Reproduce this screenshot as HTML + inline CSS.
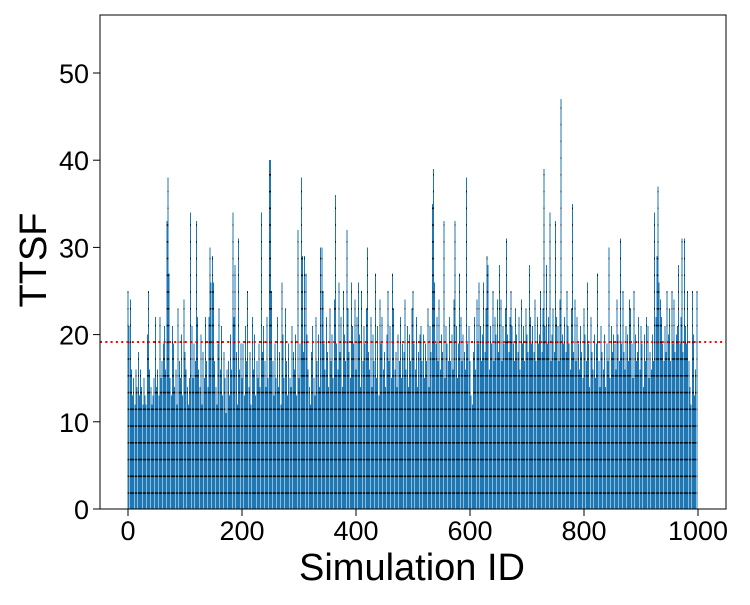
<!DOCTYPE html>
<html><head><meta charset="utf-8"><style>
body{margin:0;background:#fff;}
svg text{font-family:"Liberation Sans",sans-serif;fill:#000;}
</style></head><body>
<svg id="chart" width="750" height="600" xmlns="http://www.w3.org/2000/svg">
<defs>
<pattern id="seg" patternUnits="userSpaceOnUse" x="0" y="509" width="750" height="16.75">
<rect width="750" height="16.75" fill="#1f77b4"/>
<rect y="0" width="750" height="1.6" fill="#06131d"/>
</pattern>
<clipPath id="plotclip"><rect x="100" y="15" width="626" height="494"/></clipPath>
</defs>
<g id="bars" clip-path="url(#plotclip)" shape-rendering="crispEdges"></g>
<line id="meanline" stroke="#ff0000" stroke-width="2" stroke-dasharray="2,3.3"/>
<rect x="100" y="15" width="626" height="494" fill="none" stroke="#000" stroke-width="1"/>
<g id="xticks"></g>
<g id="yticks"></g>
<text x="412" y="580" font-size="38" text-anchor="middle">Simulation ID</text>
<text transform="translate(46,260) rotate(-90)" font-size="38" text-anchor="middle">TTSF</text>
</svg>
<script>
const values = [
25,21,24,16,13,15,12,16,14,18,13,16,14,12,15,13,12,20,25,16,14,12,13,15,22,
14,16,13,22,15,17,19,21,16,33,38,27,15,13,21,19,14,16,12,23,17,15,20,13,24,
18,16,14,12,15,34,21,15,19,17,33,22,16,14,20,12,18,15,22,17,14,22,30,26,29,
26,17,14,12,19,23,16,21,13,18,15,11,16,17,13,20,16,34,22,28,18,12,31,16,19,
15,19,13,21,17,25,14,18,12,22,16,20,13,17,15,19,14,34,18,21,17,14,22,15,40,
40,25,17,13,19,15,22,14,18,12,26,20,15,23,17,13,19,15,14,21,18,16,20,13,32,
15,19,38,29,18,29,27,20,16,14,12,18,21,15,13,22,17,20,14,30,30,25,19,16,22,
18,14,23,17,20,15,24,36,19,16,26,18,22,14,25,20,17,32,23,18,15,26,21,19,24,
16,22,26,20,14,25,17,21,19,23,30,18,16,22,14,20,17,27,15,21,13,24,19,22,16,
18,14,20,25,17,21,15,27,23,16,18,14,20,17,22,15,19,18,24,16,21,14,20,17,23,
25,19,16,22,14,18,20,21,17,20,15,19,17,23,14,21,18,35,39,26,19,22,17,24,16,
20,18,33,15,21,19,17,22,17,20,16,24,33,21,15,19,27,22,17,20,18,16,38,19,21,
17,13,12,18,22,16,24,19,26,21,17,20,26,18,23,29,28,16,21,19,25,17,22,20,24,
18,28,24,17,21,19,23,31,20,18,22,25,21,19,17,23,20,18,22,16,24,19,21,17,23,
20,18,28,22,19,21,18,24,17,22,19,20,25,18,23,39,21,28,19,22,34,17,20,23,18,
33,22,21,17,24,47,20,19,22,18,25,21,19,16,23,35,18,24,17,22,19,16,21,18,15,
23,20,17,26,19,14,22,18,16,20,15,19,27,17,14,21,18,16,20,14,19,17,30,15,21,
18,20,19,16,24,20,17,31,19,25,18,16,21,20,17,24,23,19,15,25,20,17,18,22,16,
21,19,14,20,17,22,21,15,18,16,20,17,34,22,29,37,26,24,22,19,17,21,18,25,20,
23,17,25,19,24,18,20,21,28,19,22,31,18,31,21,19,25,17,14,12,25,20,13,16,25
];
const meanValue = 19.15;
const xTicks = [0,200,400,600,800,1000];
const yTicks = [0,10,20,30,40,50];

const X0=128, XS=0.57, Y0=509, YS=8.72;
const idStep = 1000/values.length;
const xs = i => X0 + i * idStep * XS;
const ys = v => Y0 - v*YS;
const NS="http://www.w3.org/2000/svg";
const barsG=document.getElementById('bars');
const bw=1;
values.forEach((v,i)=>{
  const r=document.createElementNS(NS,'rect');
  r.setAttribute('x',(xs(i)-bw/2).toFixed(2));
  r.setAttribute('y',ys(v).toFixed(2));
  r.setAttribute('width',bw);
  r.setAttribute('height',(Y0-ys(v)).toFixed(2));
  r.setAttribute('fill','url(#seg)');
  
  
  barsG.appendChild(r);
});
const ml=document.getElementById('meanline');
ml.setAttribute('x1',100);ml.setAttribute('x2',726);
ml.setAttribute('y1',ys(meanValue));ml.setAttribute('y2',ys(meanValue));
const xg=document.getElementById('xticks');
xTicks.forEach(t=>{
  const x=X0+t*XS;
  const l=document.createElementNS(NS,'line');
  l.setAttribute('x1',x);l.setAttribute('x2',x);l.setAttribute('y1',509);l.setAttribute('y2',516);
  l.setAttribute('stroke','#000');
  
  
  xg.appendChild(l);
  const tx=document.createElementNS(NS,'text');
  tx.setAttribute('x',x);tx.setAttribute('y',540);tx.setAttribute('font-size','27');tx.setAttribute('text-anchor','middle');
  tx.textContent=t;
  
  
  xg.appendChild(tx);
});
const yg=document.getElementById('yticks');
yTicks.forEach(t=>{
  const y=ys(t);
  const l=document.createElementNS(NS,'line');
  l.setAttribute('x1',93);l.setAttribute('x2',100);l.setAttribute('y1',y);l.setAttribute('y2',y);
  l.setAttribute('stroke','#000');
  
  
  yg.appendChild(l);
  const tx=document.createElementNS(NS,'text');
  tx.setAttribute('x',89);tx.setAttribute('y',y+10);tx.setAttribute('font-size','27');tx.setAttribute('text-anchor','end');
  tx.textContent=t;
  
  
  yg.appendChild(tx);
});
</script>
</body></html>
